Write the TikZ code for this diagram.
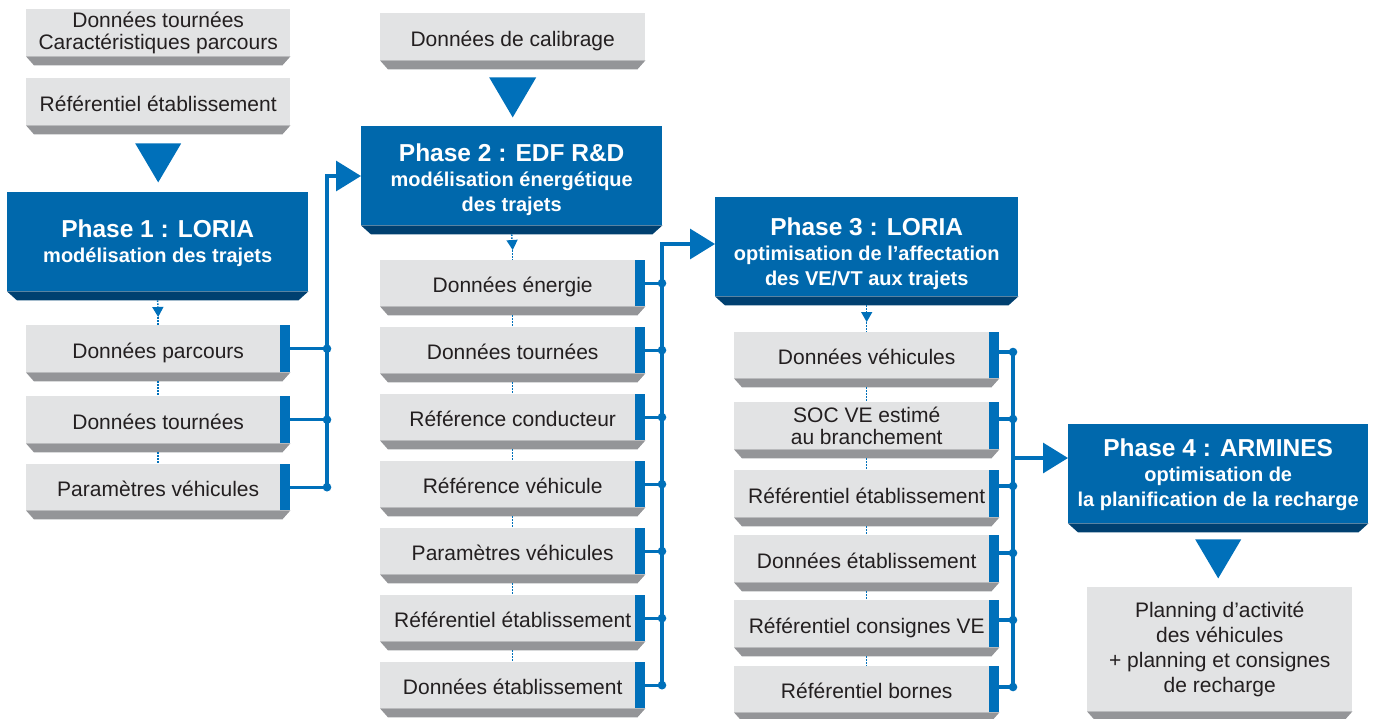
\documentclass[tikz,border=0pt]{standalone}
\usepackage{fontspec}
\setmainfont{Liberation Sans}
\usetikzlibrary{calc,arrows.meta}
\definecolor{boxblue}{RGB}{0,104,172}
\definecolor{bevelblue}{RGB}{0,64,112}
\definecolor{lineblue}{RGB}{0,112,186}
\definecolor{facegray}{RGB}{226,227,228}
\definecolor{bevelgray}{RGB}{148,149,152}
\definecolor{textdark}{RGB}{35,31,32}
\newcommand\datafont{\fontsize{21}{22}\selectfont}
\newcommand\ttlfont{\fontsize{24.5}{26}\selectfont\bfseries}
\newcommand\subfont{\fontsize{20}{25}\selectfont\bfseries}
\newcommand\bevel[3]{\fill[#2] (#1.south west) -- (#1.south east) -- ($(#1.south east)+(-#3,9)$) -- ($(#1.south west)+(#3,9)$) -- cycle;}
\newcommand\bluebar[1]{\fill[lineblue] ($(#1.north east)+(-10,0)$) rectangle (#1.south east);}
\newcommand\dotjoin[1]{\fill[lineblue] (#1) circle (4.3pt);}
\newcommand\strutof[1]{\rule{0pt}{#1pt}}
\begin{document}
\begin{tikzpicture}[x=1pt,y=-1pt,
  face/.style={fill=facegray,text=textdark,inner sep=0pt,align=center,anchor=north west,font=\datafont},
  sl/.style={text height=19pt,text depth=0pt},
  phasebox/.style={fill=boxblue,text=white,inner sep=0pt,align=center,anchor=north west,font=\subfont,minimum width=301pt,minimum height=99pt},
  conn/.style={draw=lineblue,line width=3.2pt},
  arrowconn/.style={conn,-{Triangle[length=25pt,width=30pt]}},
  dotl/.style={draw=lineblue,line width=1.5pt,dash pattern=on 1.5pt off 1.5pt},
  dotarrow/.style={dotl,-{Triangle[length=10pt,width=11pt]}},
  bigtri/.style={fill=lineblue}]
\useasboundingbox (0,0) rectangle (1375,718);

% ---------- inputs ----------
\node[face,minimum width=264pt,minimum height=47pt] (in1) at (26,9) {Données tournées\\Caractéristiques parcours};
\node[face,sl,minimum width=264pt,minimum height=47pt] (in2) at (26,78) {Référentiel établissement};
\node[face,sl,minimum width=265pt,minimum height=47pt] (cal) at (380,13) {Données de calibrage};
\bevel{in1}{bevelgray}{8}
\bevel{in2}{bevelgray}{8}
\bevel{cal}{bevelgray}{8}
\fill[bigtri] ($(in2.south)+(-23,18)$) -- ($(in2.south)+(23,18)$) -- ($(in2.south)+(0,57)$) -- cycle;
\fill[bigtri] ($(cal.south)+(-23.5,17)$) -- ($(cal.south)+(23.5,17)$) -- ($(cal.south)+(0,57)$) -- cycle;

% ---------- phase boxes ----------
\node[phasebox] (ph1) at (7,192) {{\ttlfont\strutof{21}Phase 1 : LORIA}\\modélisation des trajets};
\node[phasebox] (ph2) at (361,126) {{\ttlfont\strutof{26}Phase 2 : EDF R\&D}\\modélisation énergétique\\des trajets};
\node[phasebox,minimum width=303pt] (ph3) at (715,197) {{\ttlfont\strutof{31}Phase 3 : LORIA}\\optimisation de l’affectation\\des VE/VT aux trajets};
\node[phasebox,minimum width=300pt] (ph4) at (1068,424) {{\ttlfont\strutof{19}Phase 4 : ARMINES}\\optimisation de\\la planification de la recharge};
\bevel{ph1}{bevelblue}{10}
\bevel{ph2}{bevelblue}{10}
\bevel{ph3}{bevelblue}{10}
\bevel{ph4}{bevelblue}{10}

% ---------- phase 1 column ----------
\node[face,sl,minimum width=264pt,minimum height=47pt] (pa1) at (26,325) {Données parcours};
\node[face,sl,minimum width=264pt,minimum height=47pt] (pa2) at (26,396) {Données tournées};
\node[face,sl,minimum width=264pt,minimum height=46pt] (pa3) at (26,464) {Paramètres véhicules};
\foreach \n in {pa1,pa2,pa3} {\bevel{\n}{bevelgray}{8}\bluebar{\n}}

% ---------- phase 2 column ----------
\node[face,sl,minimum width=265pt,minimum height=46pt] (pb1) at (380,260) {Données énergie};
\node[face,sl,minimum width=265pt,minimum height=46pt] (pb2) at (380,327) {Données tournées};
\node[face,sl,minimum width=265pt,minimum height=46pt] (pb3) at (380,394) {Référence conducteur};
\node[face,sl,minimum width=265pt,minimum height=46pt] (pb4) at (380,461) {Référence véhicule};
\node[face,sl,minimum width=265pt,minimum height=46pt] (pb5) at (380,528) {Paramètres véhicules};
\node[face,sl,minimum width=265pt,minimum height=46pt] (pb6) at (380,595) {Référentiel établissement};
\node[face,sl,minimum width=265pt,minimum height=46pt] (pb7) at (380,662) {Données établissement};
\foreach \n in {pb1,pb2,pb3,pb4,pb5,pb6,pb7} {\bevel{\n}{bevelgray}{8}\bluebar{\n}}

% ---------- phase 3 column ----------
\node[face,sl,minimum width=265pt,minimum height=46pt] (pc1) at (734,332) {Données véhicules};
\node[face,minimum width=265pt,minimum height=47pt] (pc2) at (734,402) {SOC VE estimé\\au branchement};
\node[face,sl,minimum width=265pt,minimum height=47pt] (pc3) at (734,470) {Référentiel établissement};
\node[face,sl,minimum width=265pt,minimum height=47pt] (pc4) at (734,535) {Données établissement};
\node[face,sl,minimum width=265pt,minimum height=47pt] (pc5) at (734,600) {Référentiel consignes VE};
\node[face,sl,minimum width=265pt,minimum height=46pt] (pc6) at (734,666) {Référentiel bornes};
\foreach \n in {pc1,pc2,pc3,pc4,pc5,pc6} {\bevel{\n}{bevelgray}{8}\bluebar{\n}}

% ---------- output ----------
\node[face,minimum width=265pt,minimum height=124pt,font=\fontsize{21}{25}\selectfont] (out) at (1087,587) {Planning d’activité\\des véhicules\\+ planning et consignes\\de recharge};
\bevel{out}{bevelgray}{8}
\fill[bigtri] ($(ph4.south)+(-23,16)$) -- ($(ph4.south)+(23,16)$) -- ($(ph4.south)+(0,55)$) -- cycle;

% ---------- dotted links ----------
\draw[dotarrow] ($(ph1.south)+(0,9)$) -- ($(pa1.north)+(0,-8)$);
\draw[dotl] ($(pa1.north)+(0,-8)$) -- (pa1.north);
\draw[dotl] ($(pa1.south)+(0,9)$) -- (pa2.north);
\draw[dotl] ($(pa2.south)+(0,9)$) -- (pa3.north);

\draw[dotarrow] ($(ph2.south)+(0,9)$) -- ($(pb1.north)+(0,-10)$);
\draw[dotl] ($(pb1.north)+(0,-10)$) -- (pb1.north);
\foreach \a/\b in {pb1/pb2,pb2/pb3,pb3/pb4,pb4/pb5,pb5/pb6,pb6/pb7}
  {\draw[dotl] ($(\a.south)+(0,9)$) -- (\b.north);}

\draw[dotarrow] ($(ph3.south)+(0,9)$) -- ($(pc1.north)+(0,-10)$);
\draw[dotl] ($(pc1.north)+(0,-10)$) -- (pc1.north);
\foreach \a/\b in {pc1/pc2,pc2/pc3,pc3/pc4,pc4/pc5,pc5/pc6}
  {\draw[dotl] ($(\a.south)+(0,9)$) -- (\b.north);}

% ---------- bus 1 (phase 1 -> phase 2) ----------
\coordinate (b1) at (327,176);
\foreach \n in {pa1,pa2,pa3} {\draw[conn] (\n.east) -- (\n.east -| b1); \dotjoin{\n.east -| b1}}
\draw[arrowconn] (pa3.east -| b1) -- (b1) -- (b1 -| ph2.west);

% ---------- bus 2 (phase 2 -> phase 3) ----------
\coordinate (b2) at (662,244);
\foreach \n in {pb1,pb2,pb3,pb4,pb5,pb6,pb7} {\draw[conn] (\n.east) -- (\n.east -| b2); \dotjoin{\n.east -| b2}}
\draw[arrowconn] (pb7.east -| b2) -- (b2) -- (b2 -| ph3.west);

% ---------- bus 3 (phase 3 -> phase 4) ----------
\coordinate (b3) at (1013,458);
\foreach \n/\d/\k in {pc1/20/1,pc2/17/2,pc3/16/3,pc4/18/4,pc5/20/5,pc6/21/6}
  {\coordinate (c\k) at ($(\n.north east)+(0,\d)$);
   \draw[conn] (c\k) -- (c\k -| b3); \dotjoin{c\k -| b3}}
\draw[conn] (c1 -| b3) -- (c6 -| b3);
\draw[arrowconn] (b3) -- (b3 -| ph4.west);
\end{tikzpicture}
\end{document}
